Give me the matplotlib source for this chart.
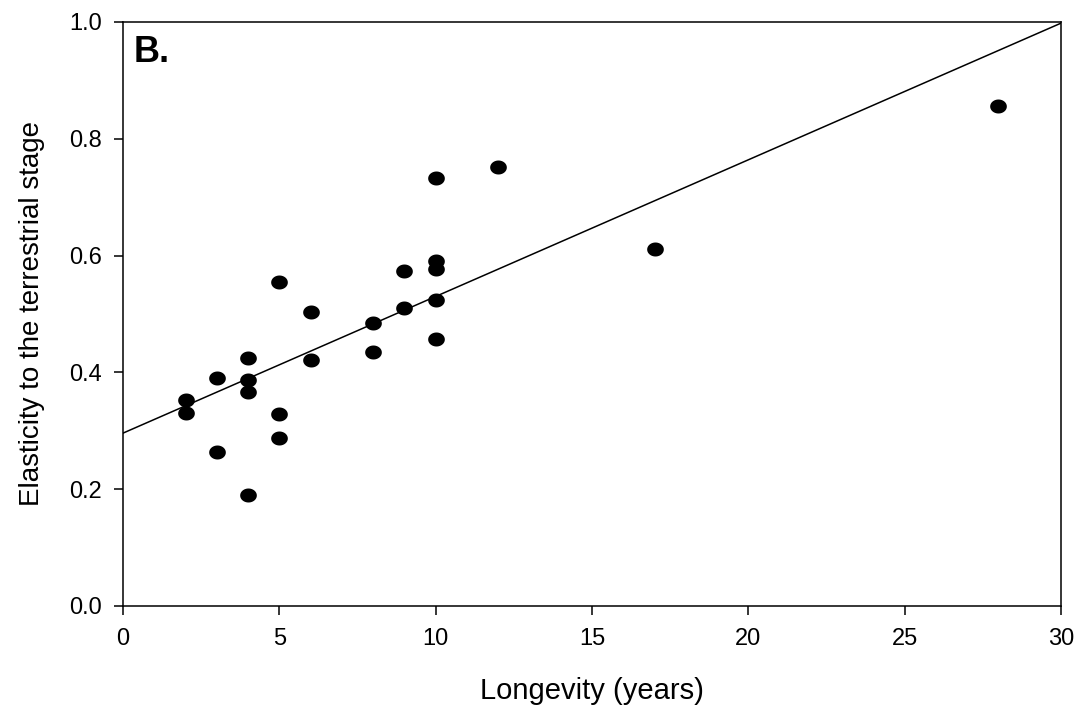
import matplotlib
matplotlib.use("Agg")
import matplotlib.pyplot as plt
import numpy as np

plt.rcParams["font.family"] = ["Liberation Sans", "DejaVu Sans"]

# longevity (years) and elasticity to the terrestrial stage
longevity = [2, 2, 3, 3, 4, 4, 4, 4, 5, 5, 5, 6, 6, 8, 8, 9, 9,
             10, 10, 10, 10, 10, 12, 17, 28]
elasticity = [0.353, 0.330, 0.390, 0.263, 0.424, 0.387, 0.366, 0.190,
              0.554, 0.328, 0.287, 0.503, 0.421, 0.485, 0.435, 0.574, 0.511,
              0.732, 0.590, 0.577, 0.524, 0.458, 0.752, 0.611, 0.856]

# regression line as drawn in the figure
fit_intercept = 0.296
fit_slope = 0.0234
fit_x = [0, 30]

x_ticks = [0, 5, 10, 15, 20, 25, 30]
y_ticks = [0.0, 0.2, 0.4, 0.6, 0.8, 1.0]

# dots in the original are slightly wider than tall
t = np.linspace(0, 2 * np.pi, 60)
ellipse = np.column_stack([np.cos(t), 0.84 * np.sin(t)])

fig = plt.figure(figsize=(10.84, 7.11), dpi=100)
ax = fig.add_axes([0.1135, 0.1477, 0.8653, 0.8214])

fx = np.array(fit_x, dtype=float)
ax.plot(fx, fit_intercept + fit_slope * fx, color="black", lw=1.1, zorder=2)
ax.plot(longevity, elasticity, ls="none", marker=ellipse, color="black",
        ms=12, mew=0, zorder=3)

ax.set_xlim(0, 30)
ax.set_ylim(0, 1.0)
ax.set_xticks(x_ticks)
ax.set_yticks(y_ticks)
ax.set_xticklabels([str(v) for v in x_ticks])
ax.set_yticklabels([f"{v:.1f}" for v in y_ticks])
ax.tick_params(direction="out", length=6.5, width=1.1, labelsize=17, pad=9)
for s in ax.spines.values():
    s.set_linewidth(1.1)

ax.set_xlabel("Longevity (years)", fontsize=21, labelpad=20)
ax.set_ylabel("Elasticity to the terrestrial stage", fontsize=20, labelpad=17)
ax.text(0.011, 0.977, "B.", transform=ax.transAxes, fontsize=26,
        fontweight="bold", ha="left", va="top")

fig.savefig("out.png", dpi=100)
